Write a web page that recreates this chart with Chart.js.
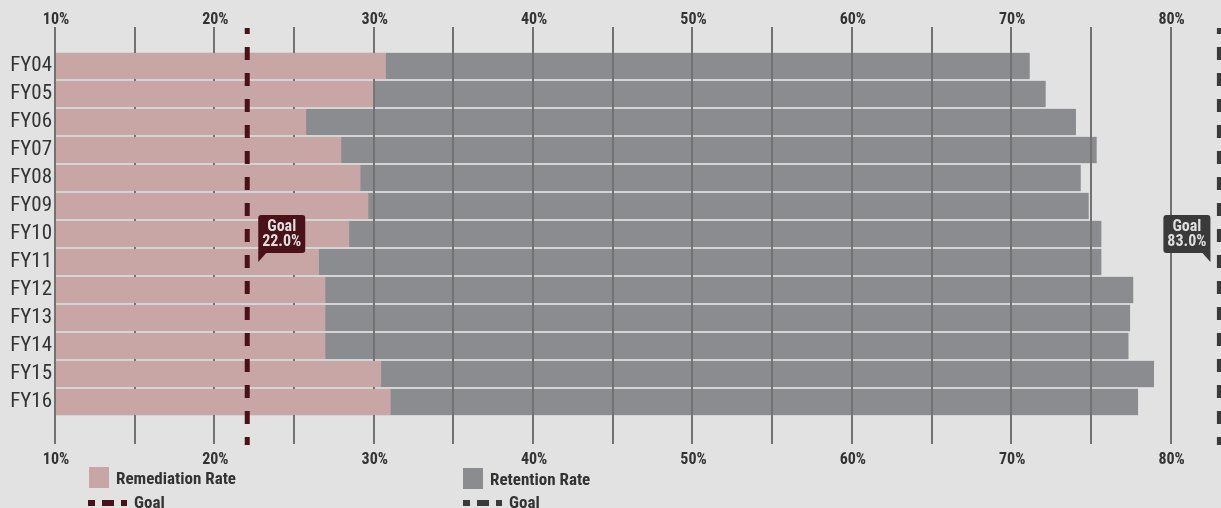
<!DOCTYPE html>
<html lang="en">
<head>
    <meta charset="UTF-8">
    <title>Remediation and Retention Rates</title>
    <script src="https://cdn.jsdelivr.net/npm/chart.js"></script>
    <style>
        body { margin: 0; background: #e2e2e2; font-family: "Roboto Condensed", "DejaVu Sans Condensed", sans-serif; }
        .wrap { position: relative; width: 1221px; height: 508px; overflow: hidden; }
        .legend span { position: absolute; display: block; }
        .legend .sq { width: 20px; height: 21px; }
        .legend .txt { font-weight: bold; font-size: 17px; color: #333; line-height: 20px; white-space: nowrap; }
        .legend .dash { width: 39px; height: 6px; }
    </style>
</head>
<body>
<div class="wrap">
    <canvas id="chart"></canvas>
    <div class="legend">
        <span class="sq" style="left:89px; top:467px; background:#c9a6a6;"></span>
        <span class="txt" style="left:116px; top:468px;">Remediation Rate</span>
        <span class="dash" style="left:88px; top:500px; background:linear-gradient(to right,#4a1218 0 7px,transparent 7px 14px,#4a1218 14px 26px,transparent 26px 33px,#4a1218 33px 39px);"></span>
        <span class="txt" style="left:134px; top:492px;">Goal</span>

        <span class="sq" style="left:463px; top:468px; background:#8b8c90;"></span>
        <span class="txt" style="left:490px; top:469px;">Retention Rate</span>
        <span class="dash" style="left:463px; top:500px; background:linear-gradient(to right,#3a3a3a 0 7px,transparent 7px 14px,#3a3a3a 14px 26px,transparent 26px 33px,#3a3a3a 33px 39px);"></span>
        <span class="txt" style="left:509px; top:492px;">Goal</span>
    </div>
</div>
<script>
    // data
    const categories = ['FY04', 'FY05', 'FY06', 'FY07', 'FY08', 'FY09', 'FY10', 'FY11', 'FY12', 'FY13', 'FY14', 'FY15', 'FY16'];
    const remediationRate = [30.7, 29.9, 25.7, 27.9, 29.1, 29.6, 28.4, 26.5, 26.9, 26.9, 26.9, 30.4, 31.0];
    const retentionRate = [71.1, 72.1, 74.0, 75.3, 74.3, 74.8, 75.6, 75.6, 77.6, 77.4, 77.3, 78.9, 77.9];
    const remediationGoal = 22.0;
    const retentionGoal = 83.0;
    const gridTicks = [10, 15, 20, 25, 30, 35, 40, 45, 50, 55, 60, 65, 70, 75, 80];
    const axisMin = 10;
    const axisMax = 83.1;

    const FONT = '"Roboto Condensed", "DejaVu Sans Condensed", sans-serif';

    // grid goes over the grey bars but under the pink ones
    const gridPlugin = {
        id: 'gridBetween',
        afterDatasetDraw(chart, args) {
            if (args.index !== 1) return;
            const ctx = chart.ctx, area = chart.chartArea, x = chart.scales.x;
            ctx.save();
            ctx.strokeStyle = '#727272';
            ctx.lineWidth = 2;
            gridTicks.forEach(v => {
                const px = Math.round(x.getPixelForValue(v)) - 1;
                ctx.beginPath();
                ctx.moveTo(px, area.top - 25);
                ctx.lineTo(px, area.bottom + 28);
                ctx.stroke();
            });
            ctx.restore();
        }
    };

    function callout(ctx, tipX, tipY, side, color, lines) {
        const w = 47, h = 38, r = 3;
        const bottom = tipY - 9, top = bottom - h;
        const left = side === 'left' ? tipX : tipX - w;
        ctx.save();
        ctx.fillStyle = color;
        ctx.beginPath();
        ctx.roundRect(left, top, w, h, r);
        ctx.fill();
        ctx.beginPath();
        if (side === 'left') {
            ctx.moveTo(tipX, bottom - 2);
            ctx.lineTo(tipX + 8, bottom);
            ctx.lineTo(tipX, tipY);
        } else {
            ctx.moveTo(tipX, bottom - 2);
            ctx.lineTo(tipX - 8, bottom);
            ctx.lineTo(tipX, tipY);
        }
        ctx.closePath();
        ctx.fill();
        ctx.fillStyle = '#dedede';
        ctx.font = 'bold 16px ' + FONT;
        ctx.textAlign = 'center';
        ctx.textBaseline = 'middle';
        ctx.fillText(lines[0], left + w / 2, top + 12);
        ctx.fillText(lines[1], left + w / 2, top + 27);
        ctx.restore();
    }

    const goalPlugin = {
        id: 'goals',
        afterDatasetsDraw(chart) {
            const ctx = chart.ctx, area = chart.chartArea;
            const x = chart.scales.x, y = chart.scales.y;
            const goals = [
                { value: remediationGoal, color: '#4a1218', side: 'left' },
                { value: retentionGoal, color: '#3a3a3a', side: 'right' }
            ];
            const tipY = y.getPixelForValue(7);
            goals.forEach(g => {
                const px = x.getPixelForValue(g.value);
                ctx.save();
                ctx.strokeStyle = g.color;
                ctx.lineWidth = 5;
                ctx.setLineDash([13, 13]);
                ctx.lineDashOffset = 7;
                ctx.beginPath();
                ctx.moveTo(px, area.top - 24);
                ctx.lineTo(px, area.bottom + 29);
                ctx.stroke();
                ctx.restore();
                const tipX = g.side === 'left' ? px + 11 : px - 9;
                callout(ctx, tipX, tipY, g.side, g.color, ['Goal', g.value.toFixed(1) + '%']);
            });
        }
    };

    const tickOpts = {
        color: '#333',
        font: { family: FONT, size: 16, weight: 'bold' },
        maxRotation: 0,
        autoSkip: false,
        callback: v => (v % 10 === 0 ? v + '%' : '')
    };

    new Chart(document.getElementById('chart'), {
        type: 'bar',
        data: {
            labels: categories,
            datasets: [
                {
                    label: 'Remediation Rate',
                    data: remediationRate,
                    backgroundColor: '#c9a6a6',
                    grouped: false,
                    barPercentage: 26 / 28,
                    categoryPercentage: 1
                },
                {
                    label: 'Retention Rate',
                    data: retentionRate,
                    backgroundColor: '#8b8c90',
                    borderColor: '#ececec',
                    borderWidth: { top: 1, bottom: 1, left: 0, right: 0 },
                    borderSkipped: false,
                    grouped: false,
                    barPercentage: 1,
                    categoryPercentage: 1
                }
            ]
        },
        options: {
            indexAxis: 'y',
            responsive: true,
            maintainAspectRatio: false,
            animation: false,
            layout: { padding: { top: 8, bottom: 40, left: 0, right: 0 } },
            plugins: {
                legend: { display: false },
                tooltip: { enabled: false }
            },
            scales: {
                x: {
                    position: 'bottom',
                    min: axisMin,
                    max: axisMax,
                    grid: { display: false, drawTicks: false },
                    border: { display: false },
                    afterBuildTicks: s => { s.ticks = gridTicks.map(v => ({ value: v })); },
                    afterFit: s => { s.height = 52; },
                    ticks: Object.assign({ padding: 34 }, tickOpts)
                },
                x2: {
                    type: 'linear',
                    position: 'top',
                    min: axisMin,
                    max: axisMax,
                    grid: { display: false, drawTicks: false },
                    border: { display: false },
                    afterBuildTicks: s => { s.ticks = gridTicks.map(v => ({ value: v })); },
                    afterFit: s => { s.height = 44; },
                    ticks: Object.assign({ padding: 22 }, tickOpts)
                },
                y: {
                    grid: { display: false, drawTicks: false },
                    border: { display: false },
                    afterFit: s => { s.width = 56; },
                    ticks: {
                        color: '#333',
                        padding: 4,
                        autoSkip: false,
                        font: { family: FONT, size: 21 }
                    }
                }
            }
        },
        plugins: [gridPlugin, goalPlugin]
    });
</script>
</body>
</html>
